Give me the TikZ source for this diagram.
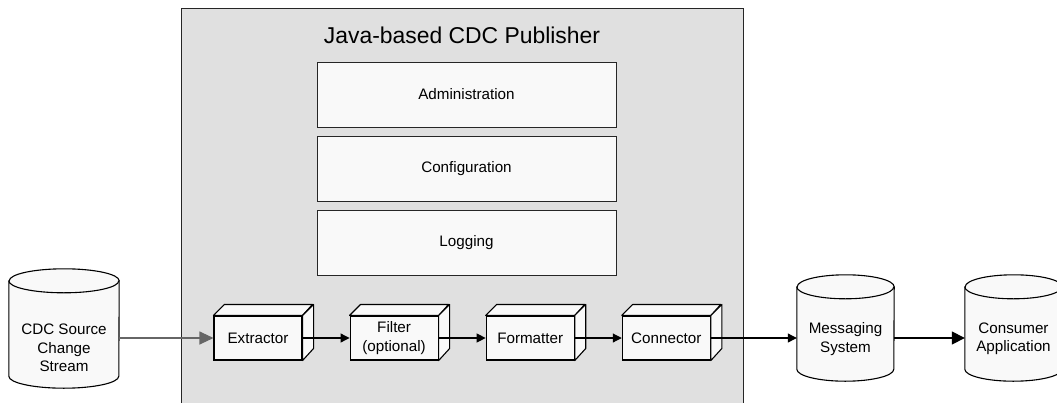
\documentclass[tikz,border=0pt]{standalone}
\usepackage{fontspec}
\setmainfont{Liberation Sans}
\usetikzlibrary{arrows.meta,positioning}

\definecolor{panelgray}{HTML}{E0E0E0}
\definecolor{boxwhite}{HTML}{F9F9F9}

\tikzset{
  layer/.style={draw=black!85,fill=boxwhite,line width=1pt,minimum width=299pt,minimum height=65pt,
    font=\fontsize{15.2}{18}\selectfont},
  stage/.style={draw,fill=boxwhite,line width=1.1pt,minimum width=88pt,minimum height=44pt,inner sep=0pt,
    align=center,font=\fontsize{15.2}{19}\selectfont},
  store/.style={draw=none,inner sep=0pt},
  storetext/.style={align=center,font=\fontsize{15.2}{18.5}\selectfont},
  storeline/.style={draw,fill=boxwhite,line width=1.1pt},
  flow/.style={-{Triangle[length=9pt,width=9pt]},line width=1.1pt},
}

\begin{document}
\begin{tikzpicture}[x=1pt,y=-1pt]
\useasboundingbox (0,0) rectangle (1057,402);
\clip (0,0) rectangle (1057,402);

% publisher panel
\draw[fill=panelgray,draw=black!85,line width=1pt] (181,8) rectangle (743,420);
\node[font=\fontsize{22.9}{27}\selectfont] (title) at (462,35) {Java-based CDC Publisher};

\node[layer] (admin) at (466.5,94.5) {Administration};
\node[layer] (conf) at (466.5,168.5) {Configuration};
\node[layer] (logg) at (466.5,242.5) {Logging};

% pipeline
\node[stage] (ext) at (258,338) {Extractor};
\node[stage,right=47pt of ext] (fil) {Filter\\(optional)};
\node[stage,right=47pt of fil] (fmt) {Formatter};
\node[stage,right=47pt of fmt] (con) {Connector};

\foreach \n in {ext,fil,fmt,con}{
  \draw[fill=boxwhite,line width=1.1pt,line join=round] (\n.north west) -- ++(11,-11) -- ++(88,0) -- (\n.north east) -- cycle;
  \draw[fill=boxwhite,line width=1.1pt,line join=round] (\n.north east) -- ++(11,-11) -- ++(0,44) -- (\n.south east) -- cycle;
}

% stores
\node[store,minimum width=110pt,minimum height=119pt] (src) at (64,328.5) {};
\node[store,minimum width=97pt,minimum height=106pt] (msg) at (845.5,328) {};
\node[store,minimum width=97pt,minimum height=106pt] (cons) at (1013.5,328) {};

\foreach \s/\r in {src/55,msg/48.5,cons/48.5}{
  \draw[storeline] ([yshift=-12pt]\s.north west) -- ([yshift=12pt]\s.south west)
    arc[start angle=180,end angle=0,x radius=\r,y radius=12]
    -- ([yshift=-12pt]\s.north east) arc[start angle=0,end angle=-180,x radius=\r,y radius=12] -- cycle;
  \draw[line width=1.1pt] ([yshift=-12pt]\s.north west) arc[start angle=180,end angle=0,x radius=\r,y radius=12];
}

\node[storetext] (srct) at (64,348) {CDC Source\\Change\\Stream};
\node[storetext] (msgt) at (845.5,339) {Messaging\\System};
\node[storetext] (const) at (1013.5,339) {Consumer\\Application};

% connectors
\draw[flow,draw=black!60,-{Triangle[length=14pt,width=13pt]}] (src.east |- ext.west) -- (ext.west);
\draw[flow] (ext.east) -- (fil.west);
\draw[flow] (fil.east) -- (fmt.west);
\draw[flow] (fmt.east) -- (con.west);
\draw[flow] (con.east) -- (msg.west |- con.east);
\draw[flow,line width=1.5pt,-{Triangle[length=13pt,width=13pt]}] (msg.east |- con.east) -- (cons.west |- con.east);
\end{tikzpicture}
\end{document}
